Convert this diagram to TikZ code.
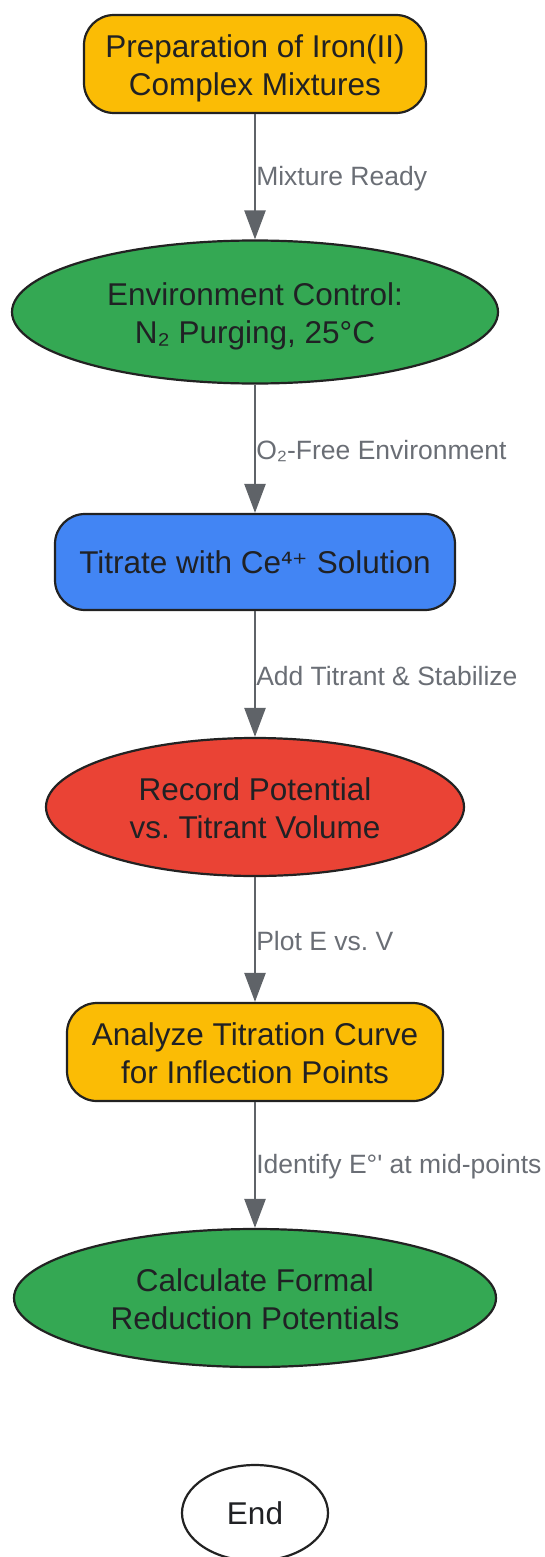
\documentclass[tikz,border=0pt]{standalone}
\usepackage{fontspec}
\setmainfont{Liberation Sans}
\newfontfamily\symfont{DejaVu Sans}
\usetikzlibrary{shapes.geometric,arrows.meta}
\frenchspacing
\definecolor{cyellow}{HTML}{FBBC05}
\definecolor{cgreen}{HTML}{34A853}
\definecolor{cblue}{HTML}{4285F4}
\definecolor{cred}{HTML}{EA4335}
\definecolor{cborder}{HTML}{222222}
\definecolor{ctext}{HTML}{202124}
\definecolor{cedge}{HTML}{5F6368}
\definecolor{clabel}{HTML}{6A6E75}
\newcommand{\twoline}[2]{\raisebox{-5pt}[\height][\depth]{\begin{tabular}{@{}c@{}}#1\\#2\end{tabular}}}
\tikzset{
  base/.style={draw=cborder, line width=2.2pt, text=ctext, align=center, inner sep=0pt,
    font=\fontsize{31.5}{38}\selectfont\frenchspacing},
  rbox/.style={base, rectangle, rounded corners=30pt},
  oval/.style={base, ellipse},
  edge/.style={draw=cedge, line width=2.5pt, -{Triangle[length=29pt,width=21pt]}},
  lbl/.style={text=clabel, anchor=west, inner sep=0pt, yshift=-2pt, font=\fontsize{26.5}{30}\selectfont\frenchspacing}
}
\begin{document}
\begin{tikzpicture}[x=1pt,y=-1pt]
\useasboundingbox (0,0) rectangle (545,1557);
\node[rbox, fill=cyellow, minimum width=342pt, minimum height=98pt] (n1) at (255,64) {\twoline{Preparation of Iron(II)}{Complex Mixtures}};
\node[oval, fill=cgreen, minimum width=486pt, minimum height=143pt] (n2) at (255,312) {\twoline{Environment Control:}{N₂ Purging, 25°C}};
\node[rbox, fill=cblue, minimum width=400pt, minimum height=96pt] (n3) at (255,562) {Titrate with Ce{\symfont\fontsize{29}{30}\selectfont ⁴⁺} Solution};
\node[oval, fill=cred, minimum width=418pt, minimum height=138pt] (n4) at (255,807) {\twoline{Record Potential}{vs. Titrant Volume}};
\node[rbox, fill=cyellow, minimum width=376pt, minimum height=98pt] (n5) at (255,1052) {\twoline{Analyze Titration Curve}{for Inflection Points}};
\node[oval, fill=cgreen, minimum width=482pt, minimum height=138pt] (n6) at (255,1298) {\twoline{Calculate Formal}{Reduction Potentials}};
\node[oval, fill=white, minimum width=146pt, minimum height=96pt] (n7) at (255,1513) {End};
\draw[edge] (n1) -- node[lbl] {Mixture Ready} (n2);
\draw[edge] (n2) -- node[lbl] {O₂-Free Environment} (n3);
\draw[edge] (n3) -- node[lbl] {Add Titrant \& Stabilize} (n4);
\draw[edge] (n4) -- node[lbl] {Plot E vs. V} (n5);
\draw[edge] (n5) -- node[lbl] {Identify E°\textquotesingle{} at mid-points} (n6);
\end{tikzpicture}
\end{document}
